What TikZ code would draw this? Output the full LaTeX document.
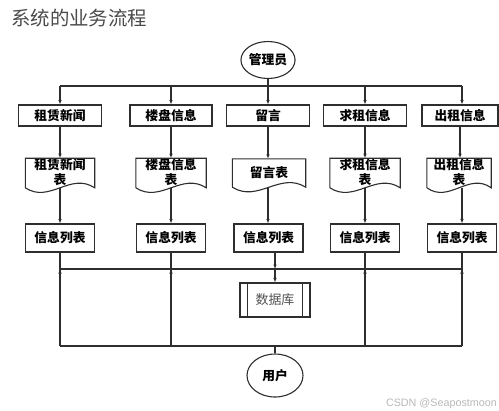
\documentclass[tikz,border=0pt]{standalone}
\usepackage{fontspec}
\newfontfamily\cjk{Noto Sans CJK SC}
\setsansfont{Liberation Sans}
\usetikzlibrary{arrows.meta,calc,shapes.geometric}
\definecolor{lc}{HTML}{2E2E2E}
\definecolor{titlec}{HTML}{4A4A4A}
\definecolor{dbc}{HTML}{505050}
\definecolor{wm}{HTML}{B8B8B8}
\newcommand\docpath[1]{\draw[line] (#1.south west) -- (#1.north west) -- (#1.north east) -- (#1.south east)
  .. controls ($(#1.south east)!0.35!(#1.south west)+(0,-16)$) and ($(#1.south east)!0.65!(#1.south west)+(0,16)$) .. (#1.south west);}
\begin{document}
\begin{tikzpicture}[x=1bp,y=-1bp,
  line/.style={draw=lc, line width=1.1bp},
  arr/.style={line, -{Latex[length=4.5bp,width=3.6bp]}},
  txt/.style={font=\cjk\bfseries\fontsize{12.8}{13}\selectfont, text=black},
  box/.style={txt, draw=lc, line width=1.1bp, rectangle, minimum height=21bp, inner sep=0pt},
  doc/.style={txt, rectangle, minimum height=28bp, inner sep=0pt, align=center},
  lst/.style={txt, draw=lc, line width=1.1bp, rectangle, minimum height=28bp, minimum width=69bp, inner sep=0pt},
  ell/.style={txt, draw=lc, line width=1.1bp, ellipse, inner sep=0pt}
]
\useasboundingbox (0,0) rectangle (499,410);

\node[anchor=west, text=titlec, font=\cjk\fontsize{19.5}{20}\selectfont, inner sep=0pt] (title) at (11,18) {系统的业务流程};

\node[ell, minimum width=54bp, minimum height=37bp] (admin) at (268,60) {管理员};

% top bus
\coordinate (tb1) at (60,86);
\coordinate (tb2) at (171,86);
\coordinate (tb3) at (268,86);
\coordinate (tb4) at (365,86);
\coordinate (tb5) at (462,86);
\draw[line] (tb1) -- (tb5);
\draw[line] (admin.south) -- (tb3);

% module boxes
\node[box, minimum width=83bp] (m1) at (60,115.5) {租赁新闻};
\node[box, minimum width=82bp] (m2) at (171,115.5) {楼盘信息};
\node[box, minimum width=83bp] (m3) at (268,115.5) {留言};
\node[box, minimum width=83bp] (m4) at (365,115.5) {求租信息};
\node[box, minimum width=76bp] (m5) at (460,115.5) {出租信息};

\foreach \i in {1,...,5}{\draw[arr] (tb\i) -- (tb\i |- m\i.north);}

% document boxes
\node[doc, minimum width=69bp] (d1) at (60,173) {\raisebox{3bp}{\shortstack{租赁新闻\\表}}};
\node[doc, minimum width=70bp] (d2) at (171,173) {\raisebox{3bp}{\shortstack{楼盘信息\\表}}};
\node[doc, minimum width=73bp] (d3) at (269,173) {留言表};
\node[doc, minimum width=70bp] (d4) at (365,173) {\raisebox{3bp}{\shortstack{求租信息\\表}}};
\node[doc, minimum width=64bp] (d5) at (459,173) {\raisebox{3bp}{\shortstack{出租信息\\表}}};
\foreach \i in {1,...,5}{\docpath{d\i}}

\foreach \i in {1,...,5}{\draw[arr] (m\i.south) -- (m\i.south |- d\i.north);}

% list boxes
\node[lst] (l1) at (60,238) {信息列表};
\node[lst] (l2) at (171,238) {信息列表};
\node[lst] (l3) at (268.5,238) {信息列表};
\node[lst] (l4) at (365,238) {信息列表};
\node[lst] (l5) at (462,238) {信息列表};

\draw[arr] (tb1 |- d1.south) -- (l1.north);
\draw[arr] (tb2 |- d2.south) -- (l2.north);
\draw[arr] (tb3 |- d3.south) -- (tb3 |- l3.north);
\draw[arr] (tb4 |- d4.south) -- (l4.north);
\draw[arr] (tb5 |- d5.south) -- (l5.north);

% middle bus and database
\coordinate (bb1) at (60,269);
\coordinate (bb2) at (171,269);
\coordinate (bm) at (275,269);
\coordinate (bb4) at (365,269);
\coordinate (bb5) at (462,269);
\draw[line] (bb1) -- (bb5);

\node[font=\cjk\fontsize{13}{14}\selectfont, text=dbc, draw=lc, line width=1.1bp, minimum width=70bp, minimum height=34bp, inner sep=0pt] (db) at (275,300) {数据库};
\draw[line] ($(db.north west)+(8,0)$) -- ($(db.south west)+(8,0)$);
\draw[line] ($(db.north east)+(-8,0)$) -- ($(db.south east)+(-8,0)$);

\draw[arr] (l3.south -| bm) -- (bm);
\draw[arr] (bm) -- (db.north);

% lower bus
\coordinate (lb1) at (60,346);
\coordinate (lb2) at (171,346);
\coordinate (lbu) at (275,346);
\coordinate (lb4) at (365,346);
\coordinate (lb5) at (462,346);
\draw[line] (lb1) -- (lb5);
\draw[line, line width=1.6bp] (lb2) -- (lbu);

\draw[line] (l1.south) -- (lb1);
\draw[line] (l2.south) -- (lb2);
\draw[line] (l4.south) -- (lb4);
\draw[line] (l5.south) -- (lb5);
\draw[arr] (lb1) -- (bb1);
\draw[arr] (lb2) -- (bb2);
\draw[arr] (lb4) -- (bb4);
\draw[arr] (lb5) -- (bb5);

\node[ell, minimum width=56bp, minimum height=43bp] (user) at (275,375.5) {用户};
\draw[line] (lbu) -- (user.north);

\node[anchor=east, text=wm, font=\sffamily\fontsize{10.8}{11}\selectfont, inner sep=0pt] (wmk) at (497,404) {CSDN @Seapostmoon};
\end{tikzpicture}
\end{document}
